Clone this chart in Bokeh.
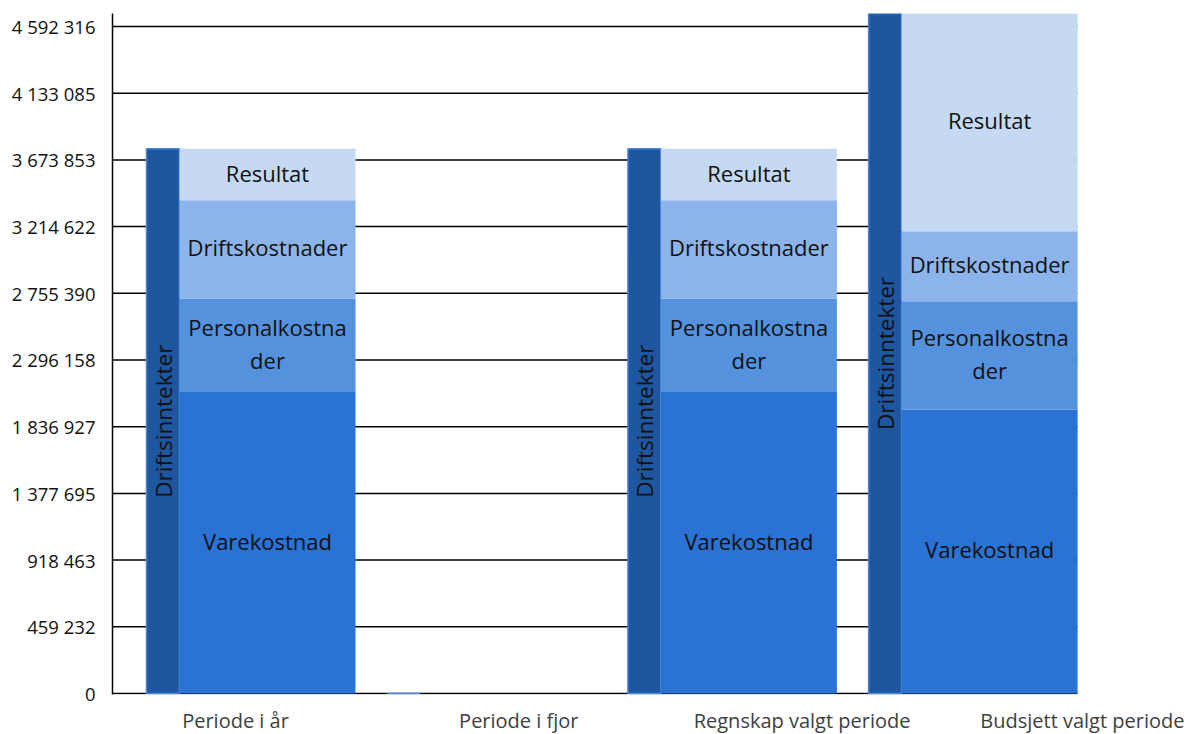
import math
from bokeh.plotting import figure
from bokeh.models import ColumnDataSource, FixedTicker, Range1d
from bokeh.core.properties import value
from bokeh.embed import file_html
from bokeh.resources import INLINE

# ---- data ----
categories = ["Periode i år", "Periode i fjor", "Regnskap valgt periode", "Budsjett valgt periode"]
driftsinntekter = [3750000, 0, 3750000, 4681800]
varekostnad = [2075800, 0, 2075800, 1955350]
personalkostnader = [643800, 0, 643800, 745650]
driftskostnader = [676800, 0, 676800, 482000]
resultat = [353600, 0, 353600, 1498800]
segment_names = ["Varekostnad", "Personalkostnader", "Driftskostnader", "Resultat"]
segment_labels = ["Varekostnad", "Personalkostna\nder", "Driftskostnader", "Resultat"]
y_tick_values = [0, 459232, 918463, 1377695, 1836927, 2296158, 2755390, 3214622, 3673853, 4133085, 4592316]
y_tick_labels = ["0", "459 232", "918 463", "1 377 695", "1 836 927", "2 296 158",
                 "2 755 390", "3 214 622", "3 673 853", "4 133 085", "4 592 316"]

# ---- styling / geometry ----
UNIT = 240.7                 # px per category slot
DARK_OFF = 34 / UNIT
DARK_W = 33 / UNIT
STACK_W = 176 / UNIT
GRID_END = 965 / UNIT
FRAME_W = 1072
FRAME_H = 681
X_END = FRAME_W / UNIT
Y_TOP = 4681800
PX_VAL = Y_TOP / 680.0
Y_START = -PX_VAL * 1

colors = ["#2A72D4", "#5592DE", "#8DB4EA", "#C5DAF2"]
dark = "#1F56A0"
FONT = "Open Sans"

p = figure(width=1184, height=726, output_backend="svg", toolbar_location=None,
           x_range=Range1d(0, X_END), y_range=Range1d(Y_START, Y_TOP),
           min_border_left=112, min_border_right=0, min_border_top=13, min_border_bottom=32)
p.frame_width = FRAME_W
p.frame_height = FRAME_H
p.outline_line_color = None
p.xgrid.visible = False
p.ygrid.visible = False
p.background_fill_color = "white"
p.border_fill_color = "white"

# grid lines drawn as segments so they stop at the last bar
p.segment(x0=[0] * len(y_tick_values), x1=[GRID_END] * len(y_tick_values),
          y0=y_tick_values, y1=y_tick_values, line_color="black", line_width=1.5)

n = len(categories)
idx = list(range(n))
dark_x = [i + DARK_OFF + DARK_W / 2 for i in idx]
stack_x = [i + DARK_OFF + DARK_W + STACK_W / 2 for i in idx]

src = ColumnDataSource(dict(dx=dark_x, sx=stack_x, Driftsinntekter=driftsinntekter,
                            Varekostnad=varekostnad, Personalkostnader=personalkostnader,
                            Driftskostnader=driftskostnader, Resultat=resultat))

p.vbar(x="dx", top="Driftsinntekter", bottom=0, width=DARK_W, source=src,
       fill_color=dark, line_color="#4A86D8", line_width=1.5)
p.vbar_stack(segment_names, x="sx", width=STACK_W, source=src, color=colors,
             line_color=None)

# segment labels
series = [varekostnad, personalkostnader, driftskostnader, resultat]
lx, ly, lt = [], [], []
for i in idx:
    base = 0
    for s, lab in zip(series, segment_labels):
        v = s[i]
        if v > 0:
            lx.append(stack_x[i]); ly.append(base + v / 2); lt.append(lab)
        base += v
p.text(x=lx, y=ly, text=lt, text_align="center", text_baseline="middle",
       text_font=value(FONT), text_font_size="22px", text_color="#111111",
       text_line_height=1.1, y_offset=-2)

# rotated Driftsinntekter labels
rx = [dark_x[i] for i in idx if driftsinntekter[i] > 0]
ry = [driftsinntekter[i] / 2 for i in idx if driftsinntekter[i] > 0]
p.text(x=rx, y=ry, text=["Driftsinntekter"] * len(rx), angle=math.pi / 2,
       text_align="center", text_baseline="middle", text_font=value(FONT),
       text_font_size="22.5px", text_color="#111111")

# y axis
p.yaxis.ticker = FixedTicker(ticks=y_tick_values)
p.yaxis.major_label_overrides = {t: l for t, l in zip(y_tick_values, y_tick_labels)}
p.yaxis.major_tick_out = 0
p.yaxis.major_tick_in = 0
p.yaxis.minor_tick_out = 0
p.yaxis.minor_tick_in = 0
p.yaxis.axis_line_color = "black"
p.yaxis.axis_line_width = 1.5
p.yaxis.major_label_standoff = 17
p.yaxis.major_label_text_font = FONT
p.yaxis.major_label_text_font_size = "18.5px"
p.yaxis.major_label_text_color = "#111111"

# x axis labels
label_pos = [0.511 + i * 1.177 for i in idx]
p.xaxis.ticker = FixedTicker(ticks=label_pos)
p.xaxis.major_label_overrides = {t: c for t, c in zip(label_pos, categories)}
p.xaxis.major_tick_out = 0
p.xaxis.major_tick_in = 0
p.xaxis.minor_tick_out = 0
p.xaxis.minor_tick_in = 0
p.xaxis.axis_line_color = None
p.xaxis.major_label_standoff = 12
p.xaxis.major_label_text_font = FONT
p.xaxis.major_label_text_font_size = "20px"
p.xaxis.major_label_text_color = "#404040"

open("out.html", "w").write(file_html(p, INLINE))
